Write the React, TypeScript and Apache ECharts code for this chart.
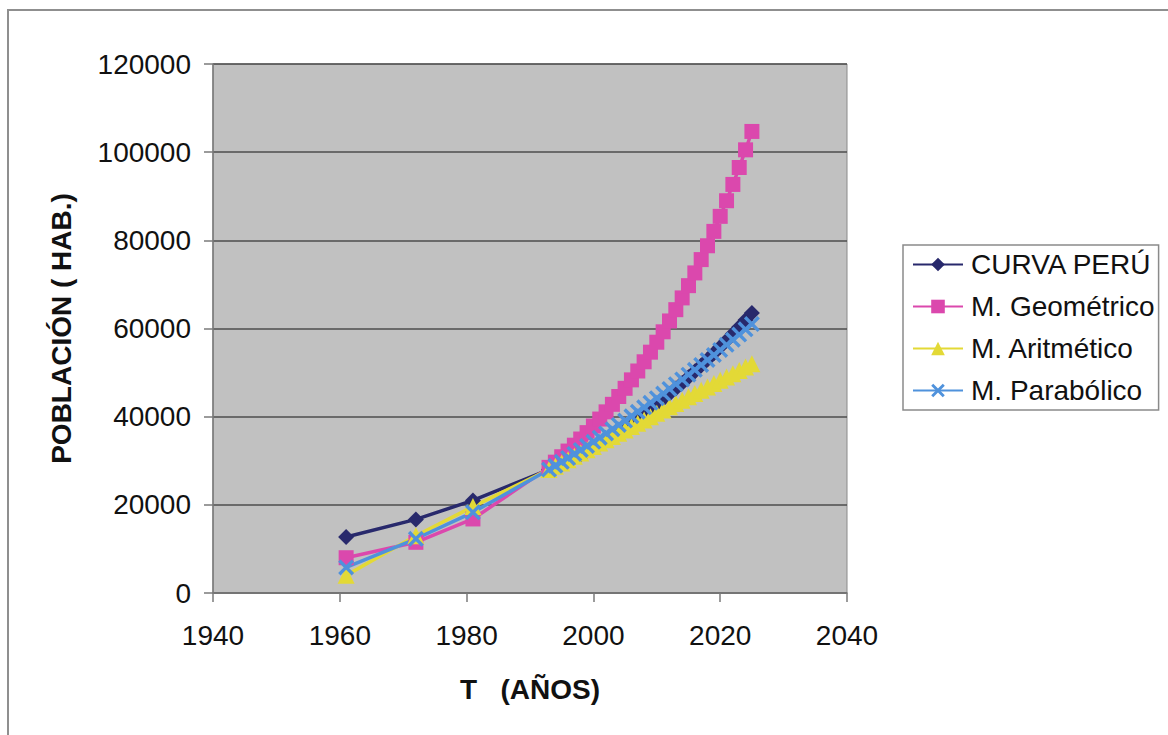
import React, { useEffect, useRef } from "react";
import * as echarts from "echarts";

const years = [1961, 1972, 1981, 1993, 1994, 1995, 1996, 1997, 1998, 1999, 2000, 2001, 2002, 2003, 2004, 2005, 2006, 2007, 2008, 2009, 2010, 2011, 2012, 2013, 2014, 2015, 2016, 2017, 2018, 2019, 2020, 2021, 2022, 2023, 2024, 2025];

const curvaPeru = [12700, 16700, 21000, 28000, 28620, 29270, 29960, 30680, 31420, 32200, 33010, 33850, 34730, 35630, 36570, 37540, 38530, 39570, 40630, 41720, 42850, 44000, 45190, 46410, 47660, 48940, 50260, 51600, 52980, 54390, 55830, 57300, 58800, 60340, 61900, 63500];
const mGeometrico = [8000, 11500, 16800, 28500, 29680, 30910, 32200, 33530, 34930, 36380, 37880, 39460, 41090, 42800, 44580, 46430, 48350, 50360, 52450, 54630, 56890, 59250, 61710, 64270, 66940, 69720, 72610, 75630, 78770, 82030, 85440, 88980, 92680, 96520, 100530, 104700];
const mAritmetico = [4000, 13000, 19600, 28000, 28750, 29500, 30250, 31000, 31750, 32500, 33250, 34000, 34750, 35500, 36250, 37000, 37750, 38500, 39250, 40000, 40750, 41500, 42250, 43000, 43750, 44500, 45250, 46000, 46750, 47500, 48250, 49000, 49750, 50500, 51250, 52000];
const mParabolico = [5800, 12300, 18300, 28000, 28870, 29750, 30640, 31540, 32450, 33370, 34300, 35240, 36190, 37150, 38130, 39110, 40100, 41110, 42130, 43150, 44190, 45240, 46290, 47360, 48440, 49530, 50630, 51740, 52860, 53990, 55130, 56290, 57450, 58620, 59810, 61000];

const seriesNames = ["CURVA PERÚ", "M. Geométrico", "M. Aritmético", "M. Parabólico"];
const xTitle = "T   (AÑOS)";
const yTitle = "POBLACIÓN ( HAB.)";

const FONT = "'Liberation Sans', Arial, sans-serif";
const X_SYMBOL = "path://M0,1.5 L1.5,0 L5,3.5 L8.5,0 L10,1.5 L6.5,5 L10,8.5 L8.5,10 L5,6.5 L1.5,10 L0,8.5 L3.5,5 Z";

export default function App() {
  const ref = useRef<HTMLDivElement>(null);
  useEffect(() => {
    if (!ref.current) return;
    const chart = echarts.init(ref.current, undefined, { renderer: "svg" });
    const zip = (vals: number[]) => years.map((y, i) => [y, vals[i]]);
    const mk = (name: string, vals: number[], color: string, symbol: string, size: number) => ({
      name,
      type: "line",
      data: zip(vals),
      symbol,
      symbolSize: size,
      showSymbol: true,
      lineStyle: { color, width: 3.5 },
      itemStyle: { color, borderWidth: 0 },
      emphasis: { disabled: true },
      z: 2,
    });
    chart.setOption({
      animation: false,
      backgroundColor: "#ffffff",
      textStyle: { fontFamily: FONT },
      graphic: [
        {
          type: "rect",
          shape: { x: 8, y: 10, width: 1300, height: 900 },
          style: { fill: "none", stroke: "#8f8f8f", lineWidth: 2 },
          silent: true,
        },
      ],
      grid: {
        left: 213,
        right: 321,
        top: 64,
        bottom: 142,
        show: true,
        backgroundColor: "#c1c1c1",
        borderColor: "#8a8a8a",
        borderWidth: 1,
      },
      legend: {
        orient: "vertical",
        left: 903,
        top: 245,
        data: seriesNames,
        itemWidth: 50,
        itemHeight: 17,
        itemGap: 13,
        padding: [5, 4, 5, 9],
        borderColor: "#8a8a8a",
        borderWidth: 1.5,
        backgroundColor: "#ffffff",
        selectedMode: false,
        textStyle: { fontFamily: FONT, fontSize: 28, color: "#111", lineHeight: 29, padding: [0, 0, 0, 3] },
      },
      xAxis: {
        type: "value",
        min: 1940,
        max: 2040,
        interval: 20,
        name: xTitle,
        nameLocation: "middle",
        nameGap: 82,
        nameTextStyle: { fontFamily: FONT, fontSize: 28, fontWeight: "bold", color: "#111" },
        axisLine: { show: true, lineStyle: { color: "#7a7a7a", width: 1.5 } },
        axisTick: { show: true, length: 9, lineStyle: { color: "#7a7a7a", width: 1.5 } },
        axisLabel: { fontFamily: FONT, fontSize: 28, color: "#111", margin: 28, formatter: (v: number) => String(v) },
        splitLine: { show: false },
      },
      yAxis: {
        type: "value",
        min: 0,
        max: 120000,
        interval: 20000,
        name: yTitle,
        nameLocation: "middle",
        nameRotate: 90,
        nameGap: 138,
        nameTextStyle: { fontFamily: FONT, fontSize: 28, fontWeight: "bold", color: "#111" },
        axisLine: { show: true, lineStyle: { color: "#7a7a7a", width: 1.5 } },
        axisTick: { show: true, length: 9, lineStyle: { color: "#7a7a7a", width: 1.5 } },
        axisLabel: { fontFamily: FONT, fontSize: 28, color: "#111", margin: 22, formatter: (v: number) => String(v) },
        splitLine: { show: true, lineStyle: { color: "#4d4d4d", width: 1.5 } },
      },
      series: [
        mk(seriesNames[0], curvaPeru, "#28296c", "diamond", 16),
        mk(seriesNames[1], mGeometrico, "#db48ad", "rect", 15),
        mk(seriesNames[2], mAritmetico, "#e3d936", "triangle", 17),
        mk(seriesNames[3], mParabolico, "#4f92dc", X_SYMBOL, 16),
      ],
    });
    return () => chart.dispose();
  }, []);
  return (
    <div
      ref={ref}
      style={{ position: "fixed", left: 0, top: 0, width: 1168, height: 735, background: "#fff" }}
    />
  );
}
